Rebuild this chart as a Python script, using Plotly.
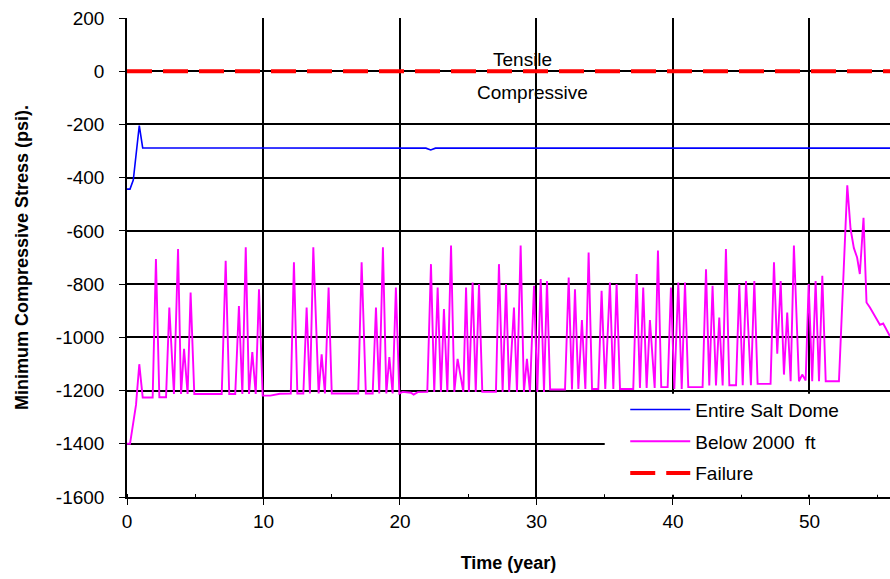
import plotly.graph_objects as go

# ---- data ----
dome_x = [0, 0.22, 0.46, 0.9, 1.15, 21.9, 22.25, 22.6, 55.9]
dome_y = [-443, -443, -409, -204, -288, -289, -296, -289, -289]

below_x = [0, 0.22, 0.66, 0.9, 1.15, 1.88, 2.12, 2.37, 2.86, 3.1, 3.44, 3.74, 3.96, 4.18, 4.44, 4.66, 4.93,
           6.94, 7.23, 7.49, 7.93, 8.2, 8.45, 8.7, 8.94, 9.18, 9.43, 9.67, 9.94, 10.5, 11.2, 12.0, 12.23,
           12.48, 12.92, 13.16, 13.4, 13.65, 14.04, 14.26, 14.5, 14.77, 15.0, 16.94, 17.19, 17.5, 18.0,
           18.24, 18.48, 18.75, 19.0, 19.22, 19.46, 19.7, 19.95, 20.2, 20.8, 21.0, 21.3, 22.0, 22.27,
           22.51, 22.76, 23.0, 23.22, 23.47, 23.74, 23.98, 24.22, 24.64, 24.84, 25.05, 25.32, 25.55,
           25.79, 26.03, 27.03, 27.25, 27.52, 27.77, 28.0, 28.35, 28.57, 28.84, 29.08, 29.3, 29.52,
           29.82, 30.06, 30.31, 30.55, 30.77, 31.0, 32.09, 32.36, 32.6, 32.82, 33.07, 33.33, 33.58,
           33.82, 34.07, 34.53, 34.77, 35.04, 35.38, 35.63, 35.87, 36.12, 37.09, 37.34, 37.58, 37.82,
           38.07, 38.31, 38.66, 38.9, 39.14, 39.61, 39.85, 40.1, 40.39, 40.64, 40.88, 41.12, 42.17,
           42.42, 42.66, 42.9, 43.15, 43.39, 43.64, 43.88, 44.13, 44.62, 44.86, 45.11, 45.35, 45.71,
           45.96, 46.2, 47.15, 47.4, 47.64, 47.89, 48.13, 48.37, 48.62, 48.86, 49.23, 49.47, 49.72,
           49.94, 50.2, 50.45, 50.7, 50.94, 51.19, 52.16, 52.77, 53.01, 53.25, 53.49, 53.69, 53.96,
           54.18, 54.43, 54.68, 54.92, 55.16, 55.4, 55.77, 55.9]
below_y = [-1400, -1400, -1254, -1101, -1226, -1226, -706, -1225, -1225, -888, -1213, -668, -1213, -1043,
           -1213, -832, -1213, -1213, -712, -1213, -1213, -882, -1213, -662, -1213, -1055, -1213, -819,
           -1219, -1219, -1212, -1211, -718, -1211, -1211, -888, -1211, -662, -1211, -1064, -1211, -813,
           -1211, -1211, -718, -1211, -1211, -888, -1211, -662, -1211, -1074, -1211, -813, -1211, -1205,
           -1208, -1215, -1206, -1205, -725, -1205, -813, -1205, -894, -1205, -655, -1205, -1081, -1205,
           -813, -1205, -794, -1205, -800, -1205, -1205, -725, -1205, -800, -1205, -888, -1205, -655,
           -1205, -1081, -1205, -806, -1205, -781, -1205, -788, -1196, -1196, -775, -1196, -819, -1194,
           -935, -1194, -681, -1194, -1194, -825, -1194, -794, -1194, -800, -1194, -1194, -762, -1190,
           -813, -1190, -935, -1190, -674, -1187, -1187, -813, -1194, -794, -1194, -794, -1187, -1187,
           -744, -1181, -806, -1181, -926, -1181, -668, -1180, -1180, -800, -1180, -788, -1180, -788,
           -1175, -1175, -718, -1062, -788, -1140, -907, -1165, -655, -1165, -1140, -1162, -800, -1165,
           -788, -1165, -769, -1165, -1165, -429, -592, -664, -700, -762, -551, -869, -888, -910, -928,
           -953, -948, -988, -996]

fail_x = [0, 55.9]
fail_y = [0, 0]

x_ticks = [0, 10, 20, 30, 40, 50]
y_ticks = [200, 0, -200, -400, -600, -800, -1000, -1200, -1400, -1600]
y_tick_text = ["200", "0", "-200", "-400", "-600", "-800", "-1000", "-1200", "-1400", "-1600"]

FONT = "Liberation Sans, Arial, sans-serif"

fig = go.Figure()
fig.add_trace(go.Scatter(x=dome_x, y=dome_y, mode="lines", name="Entire Salt Dome",
                         line=dict(color="#0000ff", width=1.6), legendgroup="a"))
fig.add_trace(go.Scatter(x=below_x, y=below_y, mode="lines", name="Below 2000  ft",
                         line=dict(color="#ff00ff", width=1.9), legendgroup="b"))
fig.add_trace(go.Scatter(x=fail_x, y=fail_y, mode="lines", name="Failure",
                         line=dict(color="#ff0000", width=4, dash="25px,11px"), legendgroup="c"))

# white box behind legend hiding grid lines
fig.add_shape(type="rect", xref="x", yref="y", x0=35.0, x1=56.5, y0=-1592, y1=-1212,
              fillcolor="white", line=dict(width=0), layer="above")

fig.add_annotation(x=29.0, y=45, text="Tensile", showarrow=False,
                   font=dict(family=FONT, size=19, color="black"))
fig.add_annotation(x=29.7, y=-79, text="Compressive", showarrow=False,
                   font=dict(family=FONT, size=19, color="black"))

fig.update_layout(
    width=890, height=579,
    margin=dict(l=127, r=0, t=18, b=82),
    paper_bgcolor="white", plot_bgcolor="white",
    font=dict(family=FONT, size=19, color="black"),
    showlegend=True,
    legend=dict(x=0.653, y=0.222, xanchor="left", yanchor="top", bgcolor="rgba(0,0,0,0)",
                font=dict(family=FONT, size=19, color="black"), tracegroupgap=4,
                itemwidth=60),
    xaxis=dict(range=[0, 55.9], tickvals=x_ticks, showgrid=True, gridcolor="black", gridwidth=1.5,
               showline=True, linecolor="black", linewidth=1.5, ticks="outside", ticklen=6,
               tickcolor="black", zeroline=False, automargin=False, ticklabeloverflow="allow",
               minor=dict(dtick=5, tick0=0, ticks="inside", ticklen=3, tickcolor="black", showgrid=False),
               title=dict(text="<b>Time (year)</b>", font=dict(family=FONT, size=18), standoff=26),
               tickfont=dict(size=19)),
    yaxis=dict(range=[-1600, 200], tickvals=y_ticks, ticktext=y_tick_text, showgrid=True,
               gridcolor="black", gridwidth=1.5,
               showline=True, linecolor="black", linewidth=1.5, ticks="outside", ticklen=6,
               tickcolor="black", zeroline=True, zerolinecolor="black", zerolinewidth=1.5,
               automargin=False, ticklabelstandoff=11, ticklabeloverflow="allow",
               title=dict(text="<b>Minimum Compressive Stress (psi).</b>", font=dict(family=FONT, size=18),
                          standoff=23),
               tickfont=dict(size=19)),
)

fig.write_html("out.html", config={"displayModeBar": False},
               post_script="document.body.style.margin='0';document.body.style.overflow='hidden';")
